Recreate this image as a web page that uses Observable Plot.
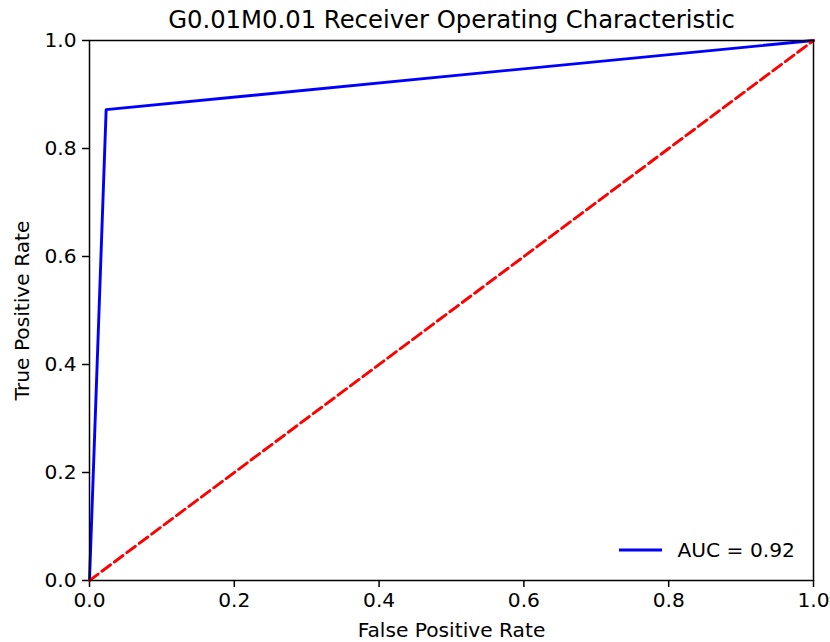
<!DOCTYPE html>
<html>
<head>
<meta charset="utf-8">
<script src="https://cdn.jsdelivr.net/npm/d3@7"></script>
<script src="https://cdn.jsdelivr.net/npm/@observablehq/plot@0.6"></script>
<style>
  body { margin: 0; background: #fff; }
  #chart svg { display: block; }
</style>
</head>
<body>
<div id="chart"></div>
<script>
// ---- data ----
const title = "G0.01M0.01 Receiver Operating Characteristic";
const xLabel = "False Positive Rate";
const yLabel = "True Positive Rate";
const fpr = [0, 0.023, 1];
const tpr = [0, 0.872, 1];
const chanceX = [0, 1];
const chanceY = [0, 1];
const aucLabel = "AUC = 0.92";
const ticks = [0, 0.2, 0.4, 0.6, 0.8, 1.0];

const roc = fpr.map((x, i) => ({x, y: tpr[i]}));
const chance = chanceX.map((x, i) => ({x, y: chanceY[i]}));

const W = 830, H = 642;
const M = {top: 40, right: 17, bottom: 62, left: 89};
const font = "DejaVu Sans, sans-serif";
const fs = 20.2;

const plot = Plot.plot({
  width: W,
  height: H,
  marginTop: M.top,
  marginRight: M.right,
  marginBottom: M.bottom,
  marginLeft: M.left,
  style: {fontFamily: font, fontSize: fs + "px", color: "black", background: "white", overflow: "visible"},
  x: {domain: [0, 1]},
  y: {domain: [0, 1]},
  marks: [
    Plot.axisX({ticks, tickFormat: d3.format(".1f"), tickSize: 7, tickPadding: 5, strokeWidth: 1.5, label: null, fontSize: fs}),
    Plot.axisY({ticks, tickFormat: d3.format(".1f"), tickSize: 7, tickPadding: 6, strokeWidth: 1.5, label: null, fontSize: fs}),
    Plot.line(roc, {x: "x", y: "y", stroke: "#0000ff", strokeWidth: 2.9}),
    Plot.line(chance, {x: "x", y: "y", stroke: "#ff0000", strokeWidth: 2.9, strokeDasharray: "10.8,4.7"}),
    Plot.frame({stroke: "black", strokeWidth: 1.5}),
    Plot.text([title], {frameAnchor: "top", dy: -20, lineAnchor: "middle", fontSize: 24.3, fill: "black"}),
    Plot.text([xLabel], {frameAnchor: "bottom", dy: 50, lineAnchor: "middle", fontSize: fs, fill: "black"}),
    Plot.text([yLabel], {frameAnchor: "left", dx: -67, rotate: -90, textAnchor: "middle", lineAnchor: "middle", fontSize: fs, fill: "black"}),
    Plot.text([aucLabel], {frameAnchor: "bottom-right", dx: -136, dy: -30, textAnchor: "start", lineAnchor: "middle", fontSize: fs, fill: "black"})
  ]
});

// legend line glyph next to label
const svg = d3.select(plot);
const right = W - M.right, bottom = H - M.bottom;
svg.append("line")
  .attr("x1", right - 194).attr("x2", right - 151)
  .attr("y1", bottom - 30).attr("y2", bottom - 30)
  .attr("stroke", "#0000ff").attr("stroke-width", 2.9);

document.getElementById("chart").appendChild(plot);
</script>
</body>
</html>
